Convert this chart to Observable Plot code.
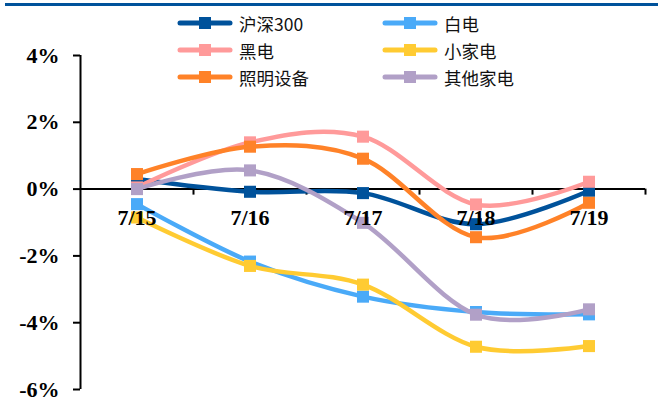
<!DOCTYPE html>
<html>
<head>
<meta charset="utf-8">
<script src="https://cdn.jsdelivr.net/npm/d3@7"></script>
<script src="https://cdn.jsdelivr.net/npm/@observablehq/plot@0.6"></script>
<style>
  html, body { margin: 0; padding: 0; background: #fff; }
  #wrap { position: relative; width: 658px; height: 400px; overflow: hidden; }
  #topbar { position: absolute; left: 5px; right: 0; top: 3px; height: 3px; background: #00529b; }
  .leg { position: absolute; height: 20px; display: flex; align-items: center;
         font-family: "Noto Sans CJK SC", sans-serif; font-size: 17.5px; color: #111; }
  .leg svg { margin-right: 6px; }
</style>
</head>
<body>
<div id="wrap"><div id="topbar"></div></div>
<script>
const dates = ["7/15", "7/16", "7/17", "7/18", "7/19"];
const seriesNames = ["沪深300", "白电", "黑电", "小家电", "照明设备", "其他家电"];
const seriesColors = ["#00529b", "#4aaaf8", "#ff9a9a", "#ffcb32", "#ff8228", "#b1a0c7"];
const hs300 = [0.30, -0.08, -0.12, -1.05, -0.05];
const baidian = [-0.45, -2.17, -3.22, -3.68, -3.75];
const heidian = [0.05, 1.40, 1.57, -0.46, 0.22];
const xiaojiadian = [-0.85, -2.30, -2.86, -4.72, -4.70];
const zhaoming = [0.45, 1.27, 0.91, -1.44, -0.41];
const qita = [0.00, 0.56, -1.01, -3.76, -3.60];
const yTicks = [-6, -4, -2, 0, 2, 4];

const allValues = [hs300, baidian, heidian, xiaojiadian, zhaoming, qita];
const rows = [];
seriesNames.forEach((s, si) => {
  allValues[si].forEach((v, i) => rows.push({series: s, idx: i + 0.5, date: dates[i], value: v}));
});

const serif = "'Liberation Serif', 'Times New Roman', serif";
const marks = [
  Plot.ruleX([0], {y1: -6, y2: 4, stroke: "#000", strokeWidth: 2}),
  Plot.ruleY([0], {x1: 0, x2: 5, stroke: "#000", strokeWidth: 2}),
  Plot.ruleX(d3.range(1, 6), {y1: 0, y2: -0.18, stroke: "#000", strokeWidth: 2}),
  Plot.axisY({ticks: yTicks, tickFormat: d => d + "%", tickSize: 7, tickPadding: 14,
              fontSize: 22, fontWeight: "bold", fontFamily: serif, label: null, strokeWidth: 2})
];
seriesNames.forEach((s, si) => {
  const d = rows.filter(r => r.series === s);
  marks.push(Plot.line(d, {x: "idx", y: "value", stroke: seriesColors[si], strokeWidth: 4.5, curve: "cardinal"}));
  marks.push(Plot.dot(d, {x: "idx", y: "value", symbol: "square", r: 6.8, fill: seriesColors[si], stroke: "none"}));
});
marks.push(Plot.text(dates.map((d, i) => ({date: d, idx: i + 0.5})), {x: "idx", y: () => 0, text: "date", dy: 29,
              fontSize: 22, fontWeight: "bold", fontFamily: serif, fill: "#000"}));

const chart = Plot.plot({
  width: 658, height: 400,
  marginTop: 55, marginBottom: 11, marginLeft: 80, marginRight: 13,
  x: {domain: [0, 5], axis: null},
  y: {domain: [-6, 4], axis: null},
  style: {background: "transparent", overflow: "visible"},
  marks
});
const wrap = document.getElementById("wrap");
wrap.insertBefore(chart, wrap.firstChild);

const legPos = [[177, 23], [382, 23], [177, 50], [382, 50], [177, 77], [382, 77]];
seriesNames.forEach((s, si) => {
  const div = document.createElement("div");
  div.className = "leg";
  div.style.left = legPos[si][0] + "px";
  div.style.top = (legPos[si][1] - 10) + "px";
  const c = seriesColors[si];
  div.innerHTML = `<svg width="56" height="14"><line x1="3" y1="7" x2="53" y2="7" stroke="${c}" stroke-width="5" stroke-linecap="round"/><rect x="22" y="1" width="12" height="12" fill="${c}"/></svg><span>${s}</span>`;
  wrap.appendChild(div);
});
</script>
</body>
</html>
